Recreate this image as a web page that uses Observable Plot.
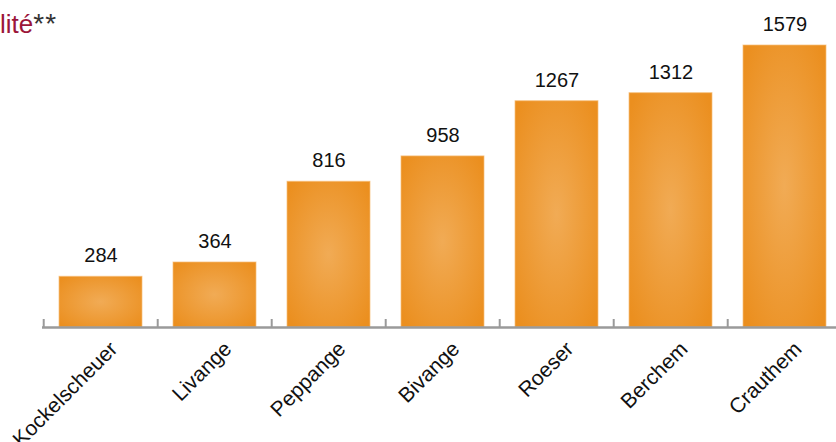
<!DOCTYPE html>
<html><head><meta charset="utf-8">
<script src="https://cdn.jsdelivr.net/npm/d3@7"></script>
<script src="https://cdn.jsdelivr.net/npm/@observablehq/plot@0.6"></script>
<style>
html,body{margin:0;padding:0;background:#fff;overflow:hidden;width:836px;height:442px;}
#wrap{position:relative;width:836px;height:442px;overflow:hidden;}
#title{position:absolute;left:0;top:8px;font-family:"Liberation Sans",Arial,sans-serif;font-size:26px;color:#9b1639;white-space:nowrap;}
#title .st{color:#333;font-size:28px;letter-spacing:1px;}
#chart{position:absolute;left:0;top:0;}
</style></head>
<body><div id="wrap"><div id="title">lité<span class="st">**</span></div><div id="chart"></div></div>
<script>
const categories = ["Kockelscheuer","Livange","Peppange","Bivange","Roeser","Berchem","Crauthem"];
const values = [284,364,816,958,1267,1312,1579];
const data = categories.map((c,i)=>({c, v: values[i]}));

const W = 844, ML = 42, MR = 0, MT = 45, MB = 115, H = 442;
const step = (W - ML - MR) / categories.length;
const font = "'Liberation Sans', Arial, sans-serif";

const chart = Plot.plot({
  width: W, height: H,
  marginLeft: ML, marginRight: MR, marginTop: MT, marginBottom: MB,
  style: {fontFamily: font, fontSize: "20px", background: "transparent", overflow: "visible", maxWidth: "none"},
  x: {domain: categories, paddingInner: 0.27, paddingOuter: 0.135, label: null},
  y: {domain: [0, d3.max(values)], axis: null},
  marks: [
    Plot.barY(data, {x: "c", y: "v", fill: "url(#barGrad)", stroke: "#f6bd78", strokeWidth: 1, strokeOpacity: 0.7}),
    Plot.ruleY([0], {stroke: "#9a9a9a", strokeWidth: 2.5}),
    Plot.ruleX(categories, {x: d => d, dx: -step/2, stroke: "#9a9a9a", strokeWidth: 2, insetTop: (H - MT - MB) - 8}),
    Plot.text(data, {x: "c", y: "v", text: d => String(d.v), dy: -21, fill: "#111", fontSize: 20}),
    Plot.axisX({tickSize: 0, tickRotate: -45, tickPadding: 18, fontSize: 21, fill: "#111", label: null, dx: 13})
  ]
});
document.getElementById("chart").appendChild(chart);
const svg = d3.select(chart);
const defs = svg.insert("defs", ":first-child");
const g = defs.append("radialGradient").attr("id","barGrad").attr("cx","0.5").attr("cy","0.5").attr("r","0.65");
g.append("stop").attr("offset","0%").attr("stop-color","#f1ab55");
g.append("stop").attr("offset","100%").attr("stop-color","#eb8f1f");
</script></body></html>
